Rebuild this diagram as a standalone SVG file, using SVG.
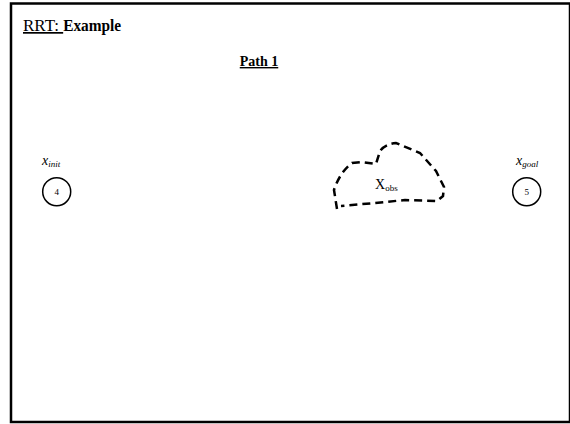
<svg xmlns="http://www.w3.org/2000/svg" width="570" height="424" viewBox="0 0 570 424">
<style>
.t{font-family:"Liberation Serif","Times New Roman",serif;fill:#000}
.node circle{fill:#fff;stroke:#000;stroke-width:1.5}
.num{font-size:9px;text-anchor:middle}
.lab{font-size:14px;font-style:italic}
.sub{font-size:9px;font-style:italic}
.obs{fill:none;stroke:#000;stroke-width:2.5;stroke-dasharray:8 5}
</style>
<rect x="0" y="0" width="570" height="424" fill="#fff"/>
<rect x="11" y="3.5" width="559" height="418.5" fill="none" stroke="#000" stroke-width="2.5"/>
<text class="t" x="23" y="31" font-size="17"><tspan text-decoration="underline">RRT: </tspan><tspan font-weight="bold" textLength="58" lengthAdjust="spacingAndGlyphs">Example</tspan></text>
<text class="t" x="259" y="66" font-size="14" font-weight="bold" text-anchor="middle" text-decoration="underline">Path 1</text>
<g id="connectors"></g>
<g id="node-init" class="node">
<text class="t lab" x="42" y="165">x<tspan class="sub" dy="2">init</tspan></text>
<circle cx="56.7" cy="191.7" r="14"/>
<text class="t num" x="56.7" y="195">4</text>
</g>
<g id="node-goal" class="node">
<text class="t lab" x="516" y="165">x<tspan class="sub" dy="2">goal</tspan></text>
<circle cx="526.7" cy="191.7" r="14"/>
<text class="t num" x="526.7" y="195">5</text>
</g>
<g id="obstacle">
<path class="obs" d="M337,209 L334,190 Q340,172 352,163 L362,162 L376,164 L380,151 Q385,144 396,143 L420,153 L436,171 L444,187 L443,196 L437,201 L405,200 L375,203 L341,206"/>
<text class="t" x="375" y="189" font-size="14">X<tspan font-size="9" dy="2">obs</tspan></text>
</g>
</svg>
